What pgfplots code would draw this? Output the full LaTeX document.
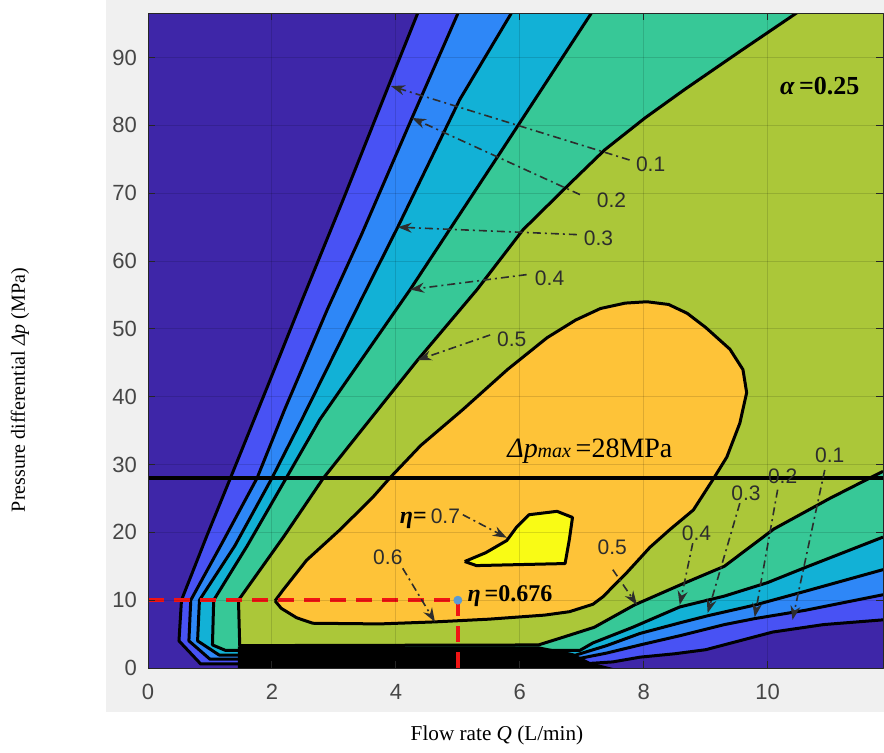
\documentclass[border=0pt]{standalone}
\usepackage{fontspec}
\setmainfont{Liberation Serif}
\setsansfont{Liberation Sans}
\usepackage{pgfplots}
\pgfplotsset{compat=1.18}
\usetikzlibrary{arrows.meta}
\definecolor{c1}{RGB}{62,38,168}
\definecolor{c2}{RGB}{72,82,244}
\definecolor{c3}{RGB}{46,135,247}
\definecolor{c4}{RGB}{18,177,214}
\definecolor{c5}{RGB}{55,200,151}
\definecolor{c6}{RGB}{171,199,57}
\definecolor{c7}{RGB}{254,195,56}
\definecolor{c8}{RGB}{249,251,21}
\definecolor{figgray}{RGB}{240,240,240}
\definecolor{ticklab}{RGB}{70,70,70}
\definecolor{annot}{RGB}{45,45,45}
\definecolor{dotblue}{RGB}{91,155,213}
\definecolor{redd}{RGB}{240,20,20}
\begin{document}
\begin{tikzpicture}
\fill[white] (0,0) rectangle (442pt,376pt);
\fill[figgray] (53pt,20pt) rectangle (442pt,376pt);
\begin{axis}[
 at={(74pt,42pt)}, anchor=south west,
 scale only axis, width=367.5pt, height=327.25pt,
 xmin=0, xmax=11.86, ymin=0, ymax=96.5,
 xtick={0,2,...,10}, ytick={0,10,...,90},
 axis background/.style={fill=c1},
 axis on top,
 grid=major, grid style={black, opacity=0.13, line width=0.5pt},
 tick align=inside, major tick length=3.5pt,
 axis line style={draw=black!85, line width=0.5pt},
 tick style={black!85, line width=0.5pt},
 ticklabel style={font=\sffamily\fontsize{11}{13}\selectfont, text=ticklab},
 /pgf/number format/assume math mode=true,
 xticklabel style={yshift=-4.5pt},
 yticklabel style={xshift=-2pt},
 line join=round,
]
% region >= 0.1
\addplot[fill=c2, draw=none] coordinates {(4.35,96.5) (3.88,85.8) (3.16,69.3) (2.49,54.3) (1.95,42.0) (1.33,28.0) (0.95,19.5) (0.54,10.0) (0.50,4.0) (0.85,0.6) (7.0,0.6) (7.5,0.9) (7.94,1.6) (8.5,2.1) (9.0,2.7) (10.08,5.3) (10.9,6.4) (11.86,7.1) (12.2,7.1) (12.2,96.5)};
% region >= 0.2
\addplot[fill=c3, draw=none] coordinates {(5.0,96.5) (4.26,81.1) (3.45,64.0) (2.9,53.0) (2.2,38.0) (1.76,28.0) (1.2,18.5) (0.69,10.0) (0.66,4.0) (1.0,1.3) (6.9,1.3) (7.4,2.2) (7.94,3.4) (8.6,4.8) (9.3,6.4) (9.8,7.3) (10.6,8.5) (11.86,10.8) (12.2,10.8) (12.2,96.5)};
% region >= 0.3
\addplot[fill=c4, draw=none] coordinates {(5.86,96.5) (5.03,83.8) (4.03,65.0) (3.44,54.3) (2.48,36.6) (2.0,28.0) (1.4,18.0) (0.83,10.0) (0.80,4.0) (1.15,1.9) (6.9,1.9) (7.4,3.3) (7.94,5.1) (8.6,6.7) (9.03,7.7) (9.8,9.3) (10.6,11.3) (11.86,14.5) (12.2,14.5) (12.2,96.5)};
% region >= 0.4
\addplot[fill=c5, draw=none] coordinates {(7.15,96.5) (5.7,76.2) (4.23,55.8) (2.77,36.6) (2.23,28.0) (1.6,18.0) (1.06,10.0) (1.04,3.4) (1.25,2.6) (6.97,2.6) (7.18,3.7) (7.82,6.0) (8.58,9.0) (9.3,10.6) (10.0,12.6) (10.6,14.8) (11.86,19.3) (12.2,19.3) (12.2,96.5)};
% region >= 0.5
\addplot[fill=c6, draw=none] coordinates {(10.47,96.6) (9.55,90.9) (8.66,85.3) (8.02,81.1) (7.37,76.4) (6.76,71.0) (6.05,64.6) (5.31,55.8) (4.35,45.4) (3.58,36.6) (2.83,28.0) (2.2,19.5) (1.46,10.0) (1.48,3.3) (6.3,3.4) (6.65,4.4) (7.2,6.0) (7.85,9.3) (8.6,12.3) (9.3,15.0) (10.1,20.5) (11.0,25.0) (11.86,29.0) (12.2,29.0) (12.2,96.6)};
% dark band of crowded contours
\addplot[fill=black, draw=none] coordinates {(1.45,0) (1.45,3.2) (6.3,3.2) (6.85,2.2) (7.15,0.8) (7.5,0)};
% contour lines
\addplot[black, line width=1.5pt] coordinates {(4.35,96.5) (3.88,85.8) (3.16,69.3) (2.49,54.3) (1.95,42.0) (1.33,28.0) (0.95,19.5) (0.54,10.0) (0.50,4.0) (0.85,0.6) (7.0,0.6) (7.5,0.9) (7.94,1.6) (8.5,2.1) (9.0,2.7) (10.08,5.3) (10.9,6.4) (11.86,7.1)};
\addplot[black, line width=1.5pt] coordinates {(5.0,96.5) (4.26,81.1) (3.45,64.0) (2.9,53.0) (2.2,38.0) (1.76,28.0) (1.2,18.5) (0.69,10.0) (0.66,4.0) (1.0,1.3) (6.9,1.3) (7.4,2.2) (7.94,3.4) (8.6,4.8) (9.3,6.4) (9.8,7.3) (10.6,8.5) (11.86,10.8)};
\addplot[black, line width=1.5pt] coordinates {(5.86,96.5) (5.03,83.8) (4.03,65.0) (3.44,54.3) (2.48,36.6) (2.0,28.0) (1.4,18.0) (0.83,10.0) (0.80,4.0) (1.15,1.9) (6.9,1.9) (7.4,3.3) (7.94,5.1) (8.6,6.7) (9.03,7.7) (9.8,9.3) (10.6,11.3) (11.86,14.5)};
\addplot[black, line width=1.5pt] coordinates {(7.15,96.5) (5.7,76.2) (4.23,55.8) (2.77,36.6) (2.23,28.0) (1.6,18.0) (1.06,10.0) (1.04,3.4) (1.25,2.6) (6.97,2.6) (7.18,3.7) (7.82,6.0) (8.58,9.0) (9.3,10.6) (10.0,12.6) (10.6,14.8) (11.86,19.3)};
\addplot[black, line width=1.5pt] coordinates {(10.47,96.6) (9.55,90.9) (8.66,85.3) (8.02,81.1) (7.37,76.4) (6.76,71.0) (6.05,64.6) (5.31,55.8) (4.35,45.4) (3.58,36.6) (2.83,28.0) (2.2,19.5) (1.46,10.0) (1.48,3.3) (6.3,3.4) (6.65,4.4) (7.2,6.0) (7.85,9.3) (8.6,12.3) (9.3,15.0) (10.1,20.5) (11.0,25.0) (11.86,29.0)};
% region >= 0.6
\addplot[fill=c7, draw=black, line width=1.5pt] coordinates {(2.05,9.9) (2.18,11.5) (2.56,15.9) (3.1,20.4) (3.63,25.2) (3.9,28.0) (4.4,32.8) (5.08,38.1) (5.8,44.0) (6.44,48.7) (6.9,51.3) (7.3,53.0) (7.7,53.8) (8.05,54.0) (8.4,53.6) (8.7,52.3) (9.0,50.2) (9.39,47.0) (9.6,44.0) (9.66,40.6) (9.55,36.1) (9.34,31.1) (9.11,27.7) (8.8,23.3) (8.42,20.4) (8.1,17.8) (7.72,14.0) (7.34,10.5) (7.18,9.4) (6.8,8.3) (6.4,7.8) (5.5,7.2) (4.63,6.8) (3.74,6.5) (2.66,6.6) (2.4,7.4) (2.15,8.8) (2.05,9.9)};
% region >= 0.7
\addplot[fill=c8, draw=black, line width=1.5pt] coordinates {(5.11,15.7) (5.45,17.0) (5.79,18.8) (5.95,20.8) (6.15,22.6) (6.6,23.1) (6.85,22.2) (6.8,19.0) (6.73,15.4) (5.3,15.1) (5.11,15.7)};
% limit line
\addplot[black, line width=2pt] coordinates {(-0.05,28) (11.86,28)};
% operating point
\addplot[redd, line width=2pt, dash pattern=on 8pt off 5pt] coordinates {(0,10) (5,10)};
\addplot[redd, line width=2pt, dash pattern=on 8pt off 5pt] coordinates {(5,10) (5,0)};
\addplot[only marks, mark=*, mark size=2pt, color=dotblue] coordinates {(5,10)};
% annotation arrows
\pgfplotsset{annarrow/.style={annot, line width=0.8pt, dash pattern=on 4pt off 2pt on 1pt off 2pt, -{Stealth[length=7pt,width=5pt]}}}
\addplot[annarrow] coordinates {(7.77,74.9) (3.92,85.8)};
\addplot[annarrow] coordinates {(6.97,69.8) (4.26,81.1)};
\addplot[annarrow] coordinates {(6.92,63.9) (4.03,65.0)};
\addplot[annarrow] coordinates {(6.11,58.0) (4.23,55.8)};
\addplot[annarrow] coordinates {(5.52,49.1) (4.35,45.4)};
\addplot[annarrow] coordinates {(4.11,14.7) (4.63,6.8)};
\addplot[annarrow] coordinates {(5.08,22.6) (5.79,19.2)};
\addplot[annarrow] coordinates {(7.5,14.5) (7.89,9.3)};
\addplot[annarrow] coordinates {(8.79,18.4) (8.58,9.3)};
\addplot[annarrow] coordinates {(9.55,24.3) (9.03,8.1)};
\addplot[annarrow] coordinates {(10.16,26.3) (9.79,7.5)};
\addplot[annarrow] coordinates {(10.92,29.2) (10.4,7.1)};
% labels
\tikzset{ann/.style={font=\sffamily\fontsize{10.5}{12}\selectfont, text=annot, inner sep=0pt}}
\node[ann] at (axis cs:8.11,74.3) {0.1};
\node[ann] at (axis cs:7.48,68.9) {0.2};
\node[ann] at (axis cs:7.27,63.3) {0.3};
\node[ann] at (axis cs:6.48,57.5) {0.4};
\node[ann] at (axis cs:5.87,48.5) {0.5};
\node[ann] at (axis cs:3.87,16.4) {0.6};
\node[ann] at (axis cs:7.49,17.8) {0.5};
\node[ann] at (axis cs:8.85,19.9) {0.4};
\node[ann] at (axis cs:9.65,25.8) {0.3};
\node[ann] at (axis cs:10.24,28.2) {0.2};
\node[ann] at (axis cs:11.0,31.4) {0.1};
\node[inner sep=0pt] at (axis cs:4.55,22.0) {\fontsize{12}{14}\selectfont\textbf{\textit{η}}\textbf{=}\,{\sffamily\fontsize{10.5}{12}\selectfont\color{annot}0.7}};
\node[inner sep=0pt, anchor=west] at (axis cs:5.15,10.6) {\fontsize{12}{14}\selectfont\textbf{\textit{η}\,=0.676}};
\node[inner sep=0pt] at (axis cs:7.13,31.9) {\fontsize{14}{16}\selectfont\textit{Δp}{\fontsize{10}{12}\selectfont\textit{max}}\,=28MPa};
\node[inner sep=0pt] at (axis cs:10.84,85.8) {\fontsize{13}{15}\selectfont\textbf{\textit{α}\,=0.25}};
\end{axis}
\node at (248.5pt,8.5pt) {\fontsize{10.6}{12}\selectfont Flow rate \textit{Q} (L/min)};
\node[rotate=90] at (10pt,181pt) {\fontsize{10}{12}\selectfont Pressure differential \textit{Δp} (MPa)};
\end{tikzpicture}
\end{document}
